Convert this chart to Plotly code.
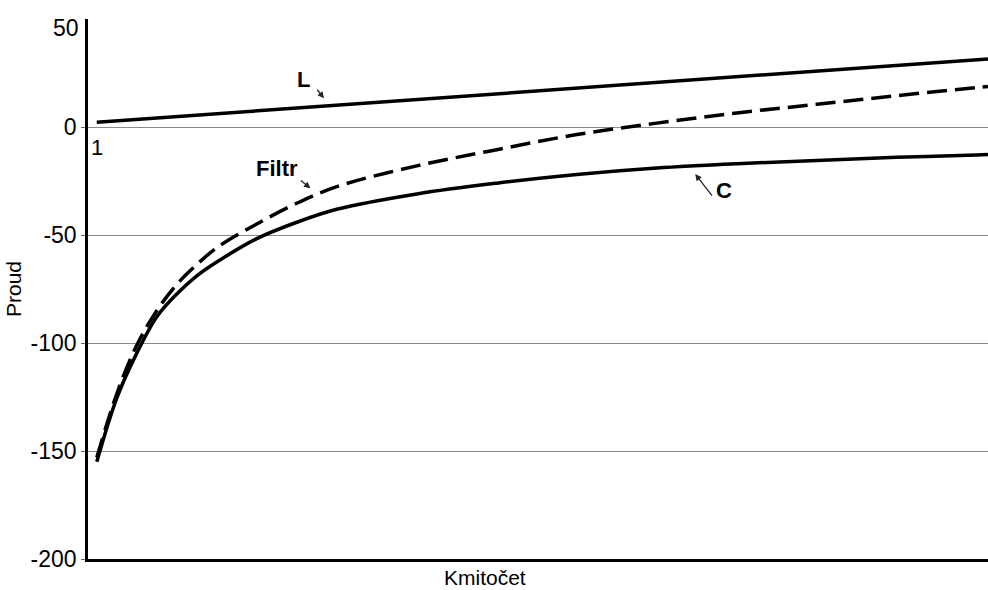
import plotly.graph_objects as go

freq = [1, 1.25, 1.5, 1.75, 2, 2.25, 2.5, 3, 3.5, 4, 5, 6, 7, 8, 9, 10, 11, 12, 12.14]
proud_C = [-155, -125.5, -104.7, -87.8, -77.3, -68.9, -62.5, -51.7, -44.1, -38.1,
           -31, -26, -22, -19, -17, -15.5, -14, -13, -12.7]
proud_filtr = [-153, -123.5, -101, -85, -72.9, -63.7, -55.9, -44.9, -35.3, -27.6,
               -18, -10.5, -3.5, 1.8, 6.5, 10.5, 14.5, 18.3, 18.8]
freq_L = [1, 7, 12.14]
proud_L = [2.2, 18.0, 31.5]

y_ticks = [-200, -150, -100, -50, 0]
y_tick_text = ["-200", "-150", "-100", "-50", "0"]

FONT = "Liberation Sans, Arial, sans-serif"

fig = go.Figure()
fig.add_trace(go.Scatter(x=freq_L, y=proud_L, mode="lines",
                         line=dict(color="black", width=3.5), showlegend=False, hoverinfo="skip"))
fig.add_trace(go.Scatter(x=freq, y=proud_filtr, mode="lines", line_shape="spline",
                         line=dict(color="black", width=3.5, dash="20px,8px"), showlegend=False,
                         hoverinfo="skip"))
fig.add_trace(go.Scatter(x=freq, y=proud_C, mode="lines", line_shape="spline",
                         line=dict(color="black", width=3.5), showlegend=False, hoverinfo="skip"))

ann = []
# Curve labels
ann.append(dict(x=3.58, y=21.8, text="<b>L</b>", showarrow=False,
                font=dict(size=22, family=FONT, color="black")))
ann.append(dict(x=3.25, y=-19.1, text="<b>Filtr</b>", showarrow=False,
                font=dict(size=22, family=FONT, color="black")))
ann.append(dict(x=8.84, y=-29.2, text="<b>C</b>", showarrow=False,
                font=dict(size=22, family=FONT, color="black")))
# Pointer arrows (head at x,y; tail offset in pixels)
for (hx, hy, ax, ay) in [(3.84, 13.3, -8, -10), (3.67, -28.4, -11, -9), (8.48, -21.8, 18, 23)]:
    ann.append(dict(x=hx, y=hy, ax=ax, ay=ay, text="",
                    showarrow=True, arrowhead=2, arrowsize=1, arrowwidth=1.3, arrowcolor="#222"))
# "1" marker near start of frequency axis
ann.append(dict(x=1, y=-9.7, text="1", showarrow=False,
                font=dict(size=22, family=FONT, color="black")))
# top tick label "50"
ann.append(dict(xref="paper", x=0, y=45.8, text="50", showarrow=False, xanchor="right",
                xshift=-7, font=dict(size=23, family=FONT, color="black")))
# x-axis title (off-centre, as in the reference)
ann.append(dict(xref="paper", yref="paper", x=(485 - 88) / 900, y=-(577 - 559) / 540,
                text="Kmitočet", showarrow=False, yanchor="middle",
                font=dict(size=21, family=FONT, color="black")))

fig.update_layout(
    width=988, height=590,
    margin=dict(l=88, r=0, t=19, b=31),
    paper_bgcolor="white", plot_bgcolor="white",
    annotations=ann,
    xaxis=dict(range=[0.89, 12.14], showticklabels=False, ticks="", showgrid=False,
               zeroline=False, showline=True, linecolor="black", linewidth=2.5, mirror=False),
    # top frame line drawn by a bare overlaying axis on the top side
    xaxis2=dict(range=[0.89, 12.14], overlaying="x", side="top", anchor="y",
                showticklabels=False, ticks="", showgrid=False, zeroline=False,
                showline=True, linecolor="black", linewidth=1.8),
    yaxis=dict(range=[-200, 50], tickvals=y_ticks, ticktext=y_tick_text,
               ticks="outside", ticklen=4, tickcolor="#666", tickwidth=1,
               showgrid=True, gridcolor="#8a8a8a", gridwidth=1,
               zeroline=False, showline=True, linecolor="black", linewidth=2.5, mirror=False,
               tickfont=dict(size=23, family=FONT, color="black"),
               title=dict(text="Proud", standoff=4, font=dict(size=21, family=FONT, color="black"))),
)

fig.write_html("out.html")
